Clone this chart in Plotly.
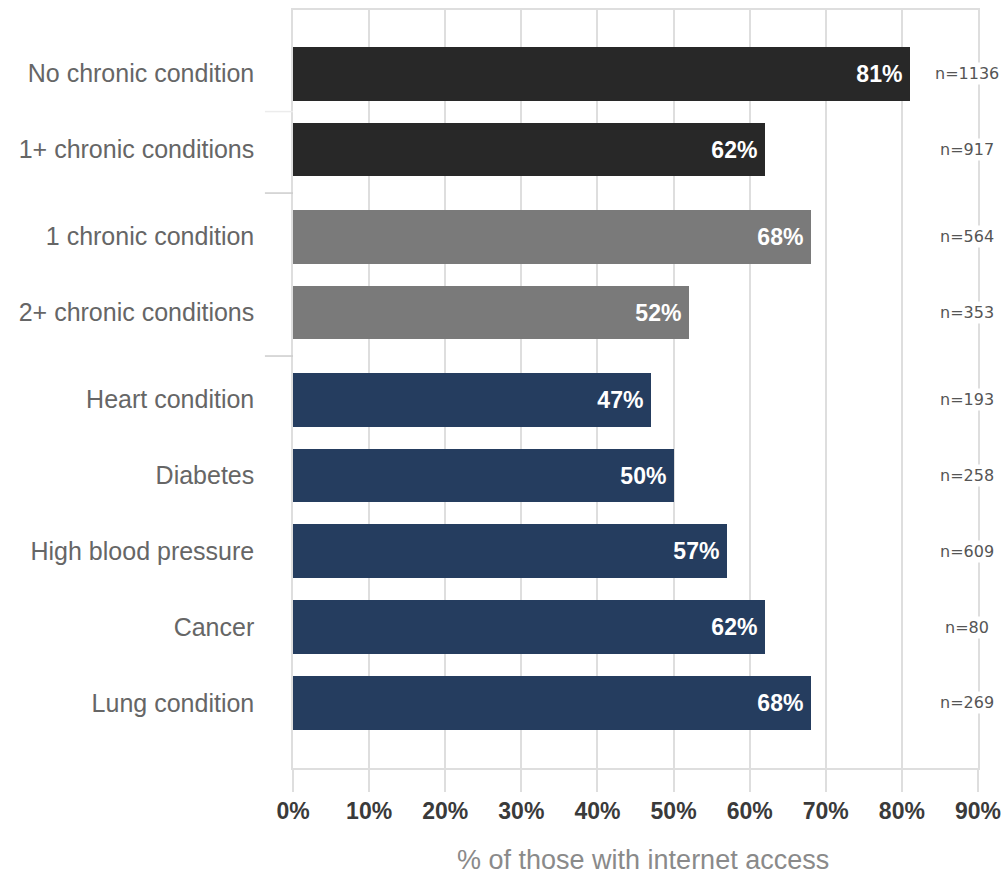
import plotly.graph_objects as go

categories = ["No chronic condition", "1+ chronic conditions",
              "1 chronic condition", "2+ chronic conditions",
              "Heart condition", "Diabetes", "High blood pressure", "Cancer", "Lung condition"]
values = [81, 62, 68, 52, 47, 50, 57, 62, 68]
groups = [0, 0, 1, 1, 2, 2, 2, 2, 2]
sample_sizes = ["n=1136", "n=917", "n=564", "n=353", "n=193", "n=258", "n=609", "n=80", "n=269"]
group_colors = ["#282828", "#7a7a7a", "#253d5f"]
x_ticks = [0, 10, 20, 30, 40, 50, 60, 70, 80, 90]

GAP = 0.15
positions = [i + GAP * g for i, g in enumerate(groups)]
colors = [group_colors[g] for g in groups]

fig = go.Figure()
fig.add_trace(go.Bar(
    x=values, y=positions, orientation="h", width=0.71,
    marker=dict(color=colors, line=dict(width=0)),
    text=[f"{v}%\u2009" for v in values], textposition="inside", insidetextanchor="end",
    textfont=dict(color="white", size=23, family="Liberation Sans", weight="bold"),
    hoverinfo="skip", cliponaxis=False,
))

for p, n in zip(positions, sample_sizes):
    fig.add_annotation(x=88.55, y=p, text=n, showarrow=False, xanchor="center",
                       font=dict(size=16, color="#555555", family="DejaVu Sans"),
                       bgcolor="white", borderpad=1)

# group separators (short ticks left of the axis)
for i in range(len(positions) - 1):
    mid = (positions[i] + positions[i + 1]) / 2
    major = groups[i] != groups[i + 1]
    if major or i == 0:
        fig.add_shape(type="line", xref="paper", yref="y", x0=-0.041, x1=0, y0=mid, y1=mid,
                      line=dict(color="#cccccc" if major else "#ececec", width=1.5))

fig.add_annotation(xref="paper", yref="paper", x=0.511, y=-0.121, xanchor="center", yanchor="middle",
                   text="% of those with internet access", showarrow=False,
                   font=dict(size=27, color="#8a8a8a", family="Liberation Sans"))

fig.update_layout(
    width=1007, height=878,
    margin=dict(l=293, r=29, t=10, b=110, autoexpand=False),
    paper_bgcolor="white", plot_bgcolor="white",
    showlegend=False, bargap=0,
    font=dict(family="Liberation Sans"),
)
fig.update_xaxes(
    range=[0, 90], tickvals=x_ticks, ticktext=[f"{t}%" for t in x_ticks],
    showgrid=True, gridcolor="#dedede", gridwidth=1.5,
    ticks="outside", ticklen=22, tickcolor="#dedede", tickwidth=1.5,
    showline=True, linecolor="#dedede", linewidth=1.5, mirror=True,
    tickfont=dict(size=23, color="#3a3a3a", weight="bold"),
    zeroline=False, automargin=False,
)
fig.update_yaxes(
    range=[max(positions) + 0.86, -0.84], tickvals=positions, ticktext=categories,
    showgrid=False, zeroline=False, ticks="", ticklabelstandoff=32,
    showline=True, linecolor="#dedede", linewidth=1.5, mirror=True,
    tickfont=dict(size=25, color="#666666"), automargin=False,
)

fig.write_html("out.html")
